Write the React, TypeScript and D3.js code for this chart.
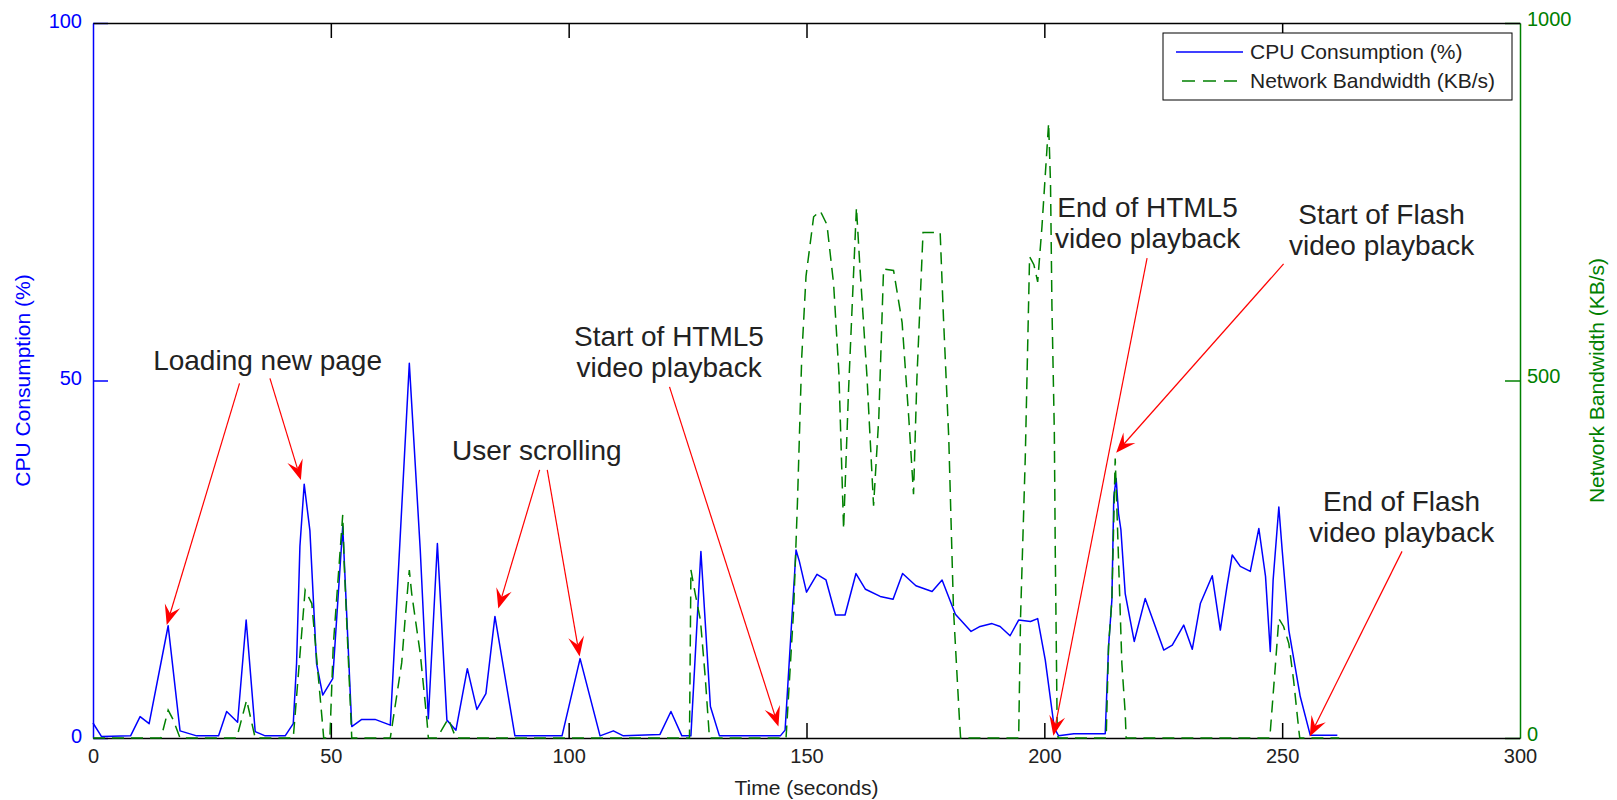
import React, { useEffect, useRef } from 'react';
import * as d3 from 'd3';

// CPU consumption (%)
const cpuTime = [0, 1.8, 7.9, 9.9, 11.8, 15.8, 18.3, 21.8, 26.4, 28.1, 30.4, 32.2, 34.1, 36.2, 40.4, 42.1, 42.8, 43.5, 44.4, 45.6, 47.0, 48.3, 50.4, 52.5, 54.4, 56.5, 59.3, 62.5, 66.5, 68.8, 70.5, 72.4, 74.4, 76.3, 78.7, 80.7, 82.6, 84.5, 88.7, 98.6, 102.4, 106.6, 109.4, 111.5, 119.2, 121.5, 123.8, 125.7, 127.8, 129.8, 131.7, 144.5, 145.5, 147.8, 148.5, 150.0, 152.2, 154.1, 156.1, 158.1, 160.4, 162.4, 165.5, 168.2, 170.2, 173.0, 176.4, 178.5, 181.3, 184.6, 186.5, 189.0, 190.7, 192.8, 194.6, 197.1, 198.6, 200.2, 202.1, 203.0, 206.2, 212.8, 213.5, 214.2, 214.6, 215.1, 215.6, 216.1, 217.0, 218.9, 221.2, 223.1, 225.1, 226.9, 229.3, 231.1, 232.8, 235.3, 237.0, 238.4, 239.5, 241.2, 243.3, 245.1, 246.5, 247.5, 248.1, 249.3, 250.0, 251.4, 253.8, 255.9, 261.6];
const cpuValue = [2.1, 0.2, 0.3, 3.0, 2.0, 15.7, 1.0, 0.3, 0.3, 3.7, 2.2, 16.5, 0.9, 0.3, 0.3, 2.0, 10.5, 26.8, 35.5, 29, 10.4, 6.0, 8.3, 29.6, 1.6, 2.6, 2.6, 1.8, 52.4, 26.3, 2.7, 27.2, 2.5, 1.1, 9.7, 4.0, 6.2, 17.0, 0.3, 0.3, 11.1, 0.3, 1.0, 0.3, 0.5, 3.7, 0.3, 0.3, 26.1, 4.4, 0.3, 0.3, 1.1, 26.3, 24.7, 20.4, 22.9, 22.1, 17.2, 17.2, 23.0, 20.8, 19.8, 19.4, 23.0, 21.3, 20.5, 22.1, 17.3, 14.9, 15.6, 16.0, 15.6, 14.3, 16.5, 16.3, 16.7, 10.9, 1.4, 0.3, 0.6, 0.6, 12.8, 19.3, 33.7, 36.3, 31.4, 29.1, 20.2, 13.5, 19.5, 16.0, 12.3, 13.0, 15.8, 12.4, 18.8, 22.7, 15.1, 21.2, 25.6, 24.0, 23.3, 29.3, 22.6, 12.1, 22.1, 32.3, 26.3, 15.1, 5.8, 0.4, 0.4];

// Network bandwidth (KB/s)
const bwTime = [0, 14.3, 15.8, 16.9, 18.3, 30.2, 32.3, 34.1, 42.1, 44.6, 46.0, 48.3, 48.5, 49.8, 50.5, 52.5, 52.8, 54.4, 62.5, 64.9, 65.6, 66.5, 67.0, 68.8, 70.2, 70.5, 72.3, 74.7, 76.3, 125.4, 125.7, 126.6, 127.7, 128.7, 129.6, 145.7, 147.3, 148.1, 149.0, 149.9, 151.5, 152.9, 154.3, 155.7, 156.8, 157.8, 158.8, 159.8, 160.5, 161.2, 162.7, 164.1, 165.2, 166.2, 168.3, 170.1, 171.5, 172.5, 173.2, 174.5, 178.1, 178.8, 179.9, 180.9, 182.2, 182.4, 194.6, 195.0, 196.0, 196.9, 197.8, 198.6, 199.5, 200.9, 201.3, 201.6, 202.1, 202.3, 202.7, 202.9, 213.0, 213.5, 214.2, 214.9, 215.4, 216.3, 217.0, 217.2, 247.4, 248.6, 249.3, 250.3, 251.4, 252.4, 253.5, 253.7, 262];
const bwValue = [0, 0, 39, 25, 0, 0, 53, 0, 0, 207, 188, 16, 0, 0, 128, 312, 245, 0, 0, 105, 165, 235, 202, 118, 25, 0, 0, 27, 0, 0, 235, 202, 165, 86, 0, 0, 180, 330, 533, 646, 729, 737, 718, 635, 512, 292, 480, 635, 742, 662, 507, 325, 448, 656, 654, 581, 448, 341, 501, 707, 707, 587, 421, 180, 20, 0, 0, 169, 394, 673, 662, 638, 715, 860, 776, 603, 429, 261, 15, 0, 0, 128, 193, 391, 291, 104, 35, 0, 0, 104, 167, 156, 132, 81, 11, 0, 0];

const xTicks = [0, 50, 100, 150, 200, 250, 300];
const cpuTicks = [0, 50, 100];
const bwTicks = [0, 500, 1000];

const seriesNames = ['CPU Consumption (%)', 'Network Bandwidth (KB/s)'];

// annotation text anchored at [time, cpu%], arrows from -> tip in the same units
const annotations = [
  { lines: ['Loading new page'], at: [36.7, 51.5], arrows: [[[30.8, 49.6], [15.5, 15.8]], [[37.2, 50.3], [43.7, 36.1]]] },
  { lines: ['User scrolling'], at: [93.3, 38.9], arrows: [[[93.9, 37.5], [85.2, 18.1]], [[95.5, 37.5], [102.3, 11.4]]] },
  { lines: ['Start of HTML5', 'video playback'], at: [121.1, 54.8], arrows: [[[121.2, 49.1], [144.1, 1.6]]] },
  { lines: ['End of HTML5', 'video playback'], at: [221.7, 72.9], arrows: [[[221.6, 67.1], [201.9, 0.3]]] },
  { lines: ['Start of Flash', 'video playback'], at: [270.9, 71.9], arrows: [[[250.3, 66.3], [215.1, 39.9]]] },
  { lines: ['End of Flash', 'video playback'], at: [275.1, 31.7], arrows: [[[275.2, 26.1], [255.8, 0.2]]] },
];

const W = 1617;
const H = 800;
const left = 93, right = 1520, top = 23, bottom = 738;
const FONT = '"Liberation Sans", Arial, Helvetica, sans-serif';
const BLUE = '#0000ff';
const GREEN = '#008000';
const RED = '#ff0000';
const INK = '#222';

export default function App() {
  const ref = useRef<SVGSVGElement>(null);

  useEffect(() => {
    const svg = d3.select(ref.current);
    svg.selectAll('*').remove();

    const x = d3.scaleLinear().domain([0, 300]).range([left, right]);
    const yCpu = d3.scaleLinear().domain([0, 100]).range([bottom, top]);
    const yBw = d3.scaleLinear().domain([0, 1000]).range([bottom, top]);

    svg.append('rect').attr('width', W).attr('height', H).attr('fill', '#fff');

    // left axis (blue)
    const gl = svg.append('g').attr('transform', `translate(${left},0)`)
      .call(d3.axisLeft(yCpu).tickValues(cpuTicks).tickSizeInner(-15).tickSizeOuter(0).tickPadding(11));
    gl.selectAll('path,line').attr('stroke', BLUE).attr('stroke-width', 1.5);
    gl.selectAll('text').attr('fill', BLUE).attr('font-size', 20).attr('font-family', FONT).attr('dy', '0.2em');

    // right axis (green)
    const gr = svg.append('g').attr('transform', `translate(${right},0)`)
      .call(d3.axisRight(yBw).tickValues(bwTicks).tickFormat(d3.format('d')).tickSizeInner(-15).tickSizeOuter(0).tickPadding(7));
    gr.selectAll('path,line').attr('stroke', GREEN).attr('stroke-width', 1.5);
    gr.selectAll('text').attr('fill', GREEN).attr('font-size', 20).attr('font-family', FONT).attr('dy', '0.1em');

    // bottom / top axes (black)
    const gb = svg.append('g').attr('transform', `translate(0,${bottom})`)
      .call(d3.axisBottom(x).tickValues(xTicks).tickSizeInner(-15).tickSizeOuter(0).tickPadding(11));
    gb.selectAll('path,line').attr('stroke', '#000').attr('stroke-width', 1.5);
    gb.selectAll('text').attr('fill', INK).attr('font-size', 20).attr('font-family', FONT);
    gb.selectAll('.tick').filter((d: any) => d === 0 || d === 300).select('line').remove();

    const gt = svg.append('g').attr('transform', `translate(0,${top})`)
      .call(d3.axisTop(x).tickValues(xTicks).tickSizeInner(-15).tickSizeOuter(0).tickFormat(() => ''));
    gt.selectAll('path,line').attr('stroke', '#000').attr('stroke-width', 1.5);
    gt.selectAll('.tick').filter((d: any) => d === 0 || d === 300).select('line').remove();

    // axis titles
    svg.append('text').attr('transform', `translate(30,${(top + bottom) / 2}) rotate(-90)`)
      .attr('text-anchor', 'middle').attr('font-size', 21).attr('font-family', FONT).attr('fill', BLUE)
      .text('CPU Consumption (%)');
    svg.append('text').attr('transform', `translate(1604,${(top + bottom) / 2}) rotate(-90)`)
      .attr('text-anchor', 'middle').attr('font-size', 21).attr('font-family', FONT).attr('fill', GREEN)
      .text('Network Bandwidth (KB/s)');
    svg.append('text').attr('x', (left + right) / 2).attr('y', 795)
      .attr('text-anchor', 'middle').attr('font-size', 21).attr('font-family', FONT).attr('fill', INK)
      .text('Time (seconds)');

    // series
    const cpuLine = d3.line<number>().x((_, i) => x(cpuTime[i])).y((d) => yCpu(d));
    svg.append('path').attr('d', cpuLine(cpuValue)).attr('fill', 'none')
      .attr('stroke', BLUE).attr('stroke-width', 1.5).attr('stroke-linejoin', 'round');

    const bwLine = d3.line<number>().x((_, i) => x(bwTime[i])).y((d) => yBw(d));
    svg.append('path').attr('d', bwLine(bwValue)).attr('fill', 'none')
      .attr('stroke', GREEN).attr('stroke-width', 1.5).attr('stroke-dasharray', '12,7');

    // legend
    const lg = svg.append('g');
    lg.append('rect').attr('x', 1163).attr('y', 33).attr('width', 349).attr('height', 67)
      .attr('fill', '#fff').attr('stroke', '#000').attr('stroke-width', 1);
    seriesNames.forEach((name, i) => {
      const yy = 52 + i * 29;
      lg.append('line').attr('x1', i ? 1182 : 1176).attr('x2', 1243).attr('y1', yy).attr('y2', yy)
        .attr('stroke', i ? GREEN : BLUE).attr('stroke-width', 1.5)
        .attr('stroke-dasharray', i ? '13,8' : null);
      lg.append('text').attr('x', 1250).attr('y', yy).attr('dy', '0.35em')
        .attr('font-size', 21).attr('font-family', FONT).attr('fill', INK).text(name);
    });

    // annotations
    const ag = svg.append('g');
    annotations.forEach((a) => {
      a.arrows.forEach(([from, tip]) => {
        const x0 = x(from[0]), y0 = yCpu(from[1]);
        const x1 = x(tip[0]), y1 = yCpu(tip[1]);
        const len = Math.hypot(x1 - x0, y1 - y0);
        const ux = (x1 - x0) / len, uy = (y1 - y0) / len;
        const nx = -uy, ny = ux;
        const L = 20, hw = 8, notch = 12;
        ag.append('line').attr('x1', x0).attr('y1', y0)
          .attr('x2', x1 - ux * notch).attr('y2', y1 - uy * notch)
          .attr('stroke', RED).attr('stroke-width', 1.2);
        const p = d3.path();
        p.moveTo(x1, y1);
        p.lineTo(x1 - ux * L + nx * hw, y1 - uy * L + ny * hw);
        p.lineTo(x1 - ux * notch, y1 - uy * notch);
        p.lineTo(x1 - ux * L - nx * hw, y1 - uy * L - ny * hw);
        p.closePath();
        ag.append('path').attr('d', p.toString()).attr('fill', RED);
      });
      a.lines.forEach((t, i) => {
        ag.append('text').attr('x', x(a.at[0])).attr('y', yCpu(a.at[1]) + i * 31)
          .attr('text-anchor', 'middle').attr('font-size', 28).attr('font-family', FONT)
          .attr('fill', INK).text(t);
      });
    });
  }, []);

  return (
    <svg ref={ref} width={W} height={H}
      style={{ position: 'absolute', left: 0, top: 0, display: 'block' }} />
  );
}
